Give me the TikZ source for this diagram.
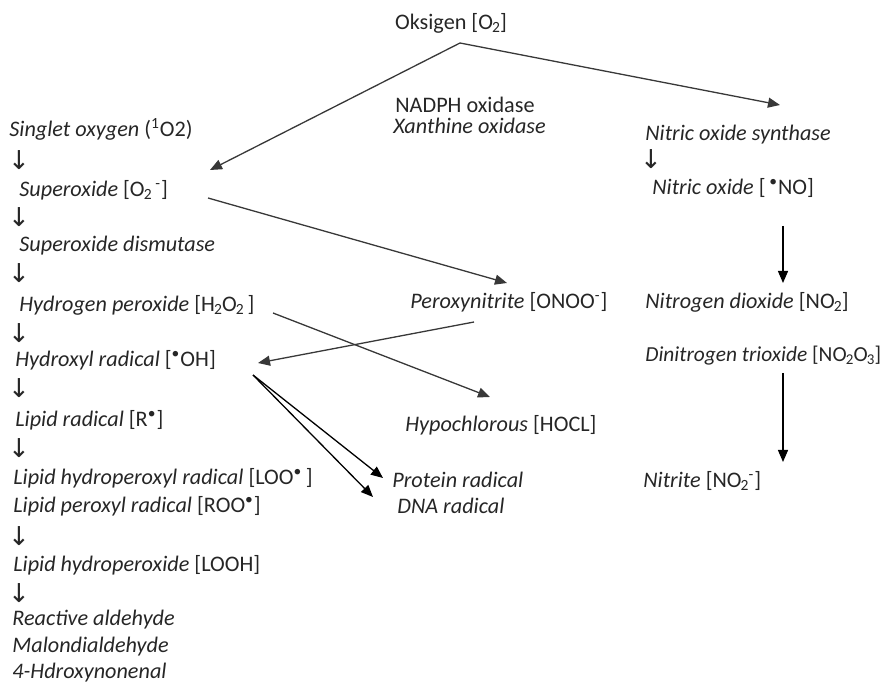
\documentclass[tikz,border=0pt]{standalone}
\usepackage{fontspec}
\setmainfont{Carlito}
\newfontfamily\arrowfont{DejaVu Sans}
\usetikzlibrary{arrows.meta}
\tikzstyle{term} = [anchor=west, inner sep=0pt, text height=1.4ex, text depth=0pt, text=black!85, font=\fontsize{11.1}{13}\selectfont\itshape]
\tikzstyle{plain} = [term, font=\fontsize{11.1}{13}\selectfont\upshape]
\tikzstyle{step down} = [inner sep=0pt, text=black!85, font=\fontsize{13}{14}\selectfont\arrowfont]
\tikzstyle{flow} = [draw=black!78, line width=.65pt, -{Triangle[length=6pt,width=5pt]}]
\tikzstyle{flowdark} = [flow, draw=black]
\newcommand{\lo}[1]{\kern-.04em\textsubscript{#1}\kern-.04em}
\newcommand{\hi}[1]{\textsuperscript{#1}}
\newcommand{\rad}{\textsuperscript{\textbullet}}
\newcommand{\ch}[1]{\textup{#1}}

\begin{document}
\begin{tikzpicture}[x=.5pt, y=-.5pt]
	\useasboundingbox (0,0) rectangle (890,684);

	\node [plain, anchor=center] (ox) at (451,23) {Oksigen [O\lo{2}]};
	\node [plain] (nadph) at (395,106) {NADPH oxidase};
	\node [term] (xan) at (393,127) {Xanthine oxidase};

	\node [term] (singlet) at (9,130) {Singlet oxygen \ch{(\hi{1}O2)}};
	\node [step down] (d1) at (19,160) {↓};
	\node [term] (sup) at (19,190) {Superoxide \ch{[O\lo{2}\,\hi{-}]}};
	\node [step down] (d2) at (19,217) {↓};
	\node [term] (sod) at (19,245) {Superoxide dismutase};
	\node [step down] (d3) at (19,273) {↓};
	\node [term] (hp) at (19,305) {Hydrogen peroxide \ch{[H\lo{2}O\lo{2}\,]}};
	\node [step down] (d4) at (19,333) {↓};
	\node [term] (oh) at (15,360) {Hydroxyl radical \ch{[\rad OH]}};
	\node [step down] (d5) at (19,388) {↓};
	\node [term] (lr) at (15,420) {Lipid radical \ch{[R\rad]}};
	\node [step down] (d6) at (19,448) {↓};
	\node [term] (loo) at (13,478) {Lipid hydroperoxyl radical \ch{[LOO\rad\,]}};
	\node [term] (roo) at (13,506) {Lipid peroxyl radical \ch{[ROO\rad]}};
	\node [step down] (d7) at (19,536) {↓};
	\node [term] (looh) at (13,565) {Lipid hydroperoxide \ch{[LOOH]}};
	\node [step down] (d8) at (19,593) {↓};
	\node [term] (ald) at (12,619) {Reactive aldehyde};
	\node [term] (mda) at (12,646) {Malondialdehyde};
	\node [term] (hne) at (12,672) {4-Hdroxynonenal};

	\node [term] (onoo) at (410,302) {Peroxynitrite \ch{[ONOO\hi{-}]}};
	\node [term] (hocl) at (405,425) {Hypochlorous \ch{[HOCL]}};
	\node [term] (prot) at (392,481) {Protein radical};
	\node [term] (dna) at (397,507) {DNA radical};

	\node [term] (nos) at (645,134) {Nitric oxide synthase};
	\node [step down] (d9) at (651,159) {↓};
	\node [term] (no) at (652,188) {Nitric oxide \ch{[\,\rad NO]}};
	\node [term] (no2) at (645,302) {Nitrogen dioxide \ch{[NO\lo{2}]}};
	\node [term, font=\fontsize{10.7}{13}\selectfont\itshape] (n2o3) at (645,355) {Dinitrogen trioxide \ch{[NO\lo{2}O\lo{3}]}};
	\node [term] (nitrite) at (643,481) {Nitrite \ch{[NO\lo{2}\hi{-}]}};

	\coordinate (split) at (460,43);
	\coordinate (nos-in) at (780,105);
	\coordinate (sup-in) at (210,170);
	\coordinate (sup-out) at (208,198);
	\coordinate (onoo-in) at (507,283);
	\coordinate (onoo-out) at (474,322);
	\coordinate (oh-in) at (258,363);
	\coordinate (hp-out) at (273,313);
	\coordinate (hocl-in) at (490,397);
	\coordinate (oh-out) at (253,375);
	\coordinate (prot-in) at (383,478);
	\coordinate (dna-in) at (373,497);
	\coordinate (no-out) at (783,226);
	\coordinate (no2-in) at (783,283);
	\coordinate (n2o3-out) at (783,373);
	\coordinate (nitrite-in) at (783,462);

	\draw [flow] (split) -- (nos-in);
	\draw [flow] (split) -- (sup-in);
	\draw [flow] (sup-out) -- (onoo-in);
	\draw [flow] (onoo-out) -- (oh-in);
	\draw [flow] (hp-out) -- (hocl-in);
	\draw [flowdark] (oh-out) -- (prot-in);
	\draw [flowdark] (oh-out) -- (dna-in);
	\draw [flowdark] (no-out) -- (no2-in);
	\draw [flowdark] (n2o3-out) -- (nitrite-in);
\end{tikzpicture}
\end{document}
